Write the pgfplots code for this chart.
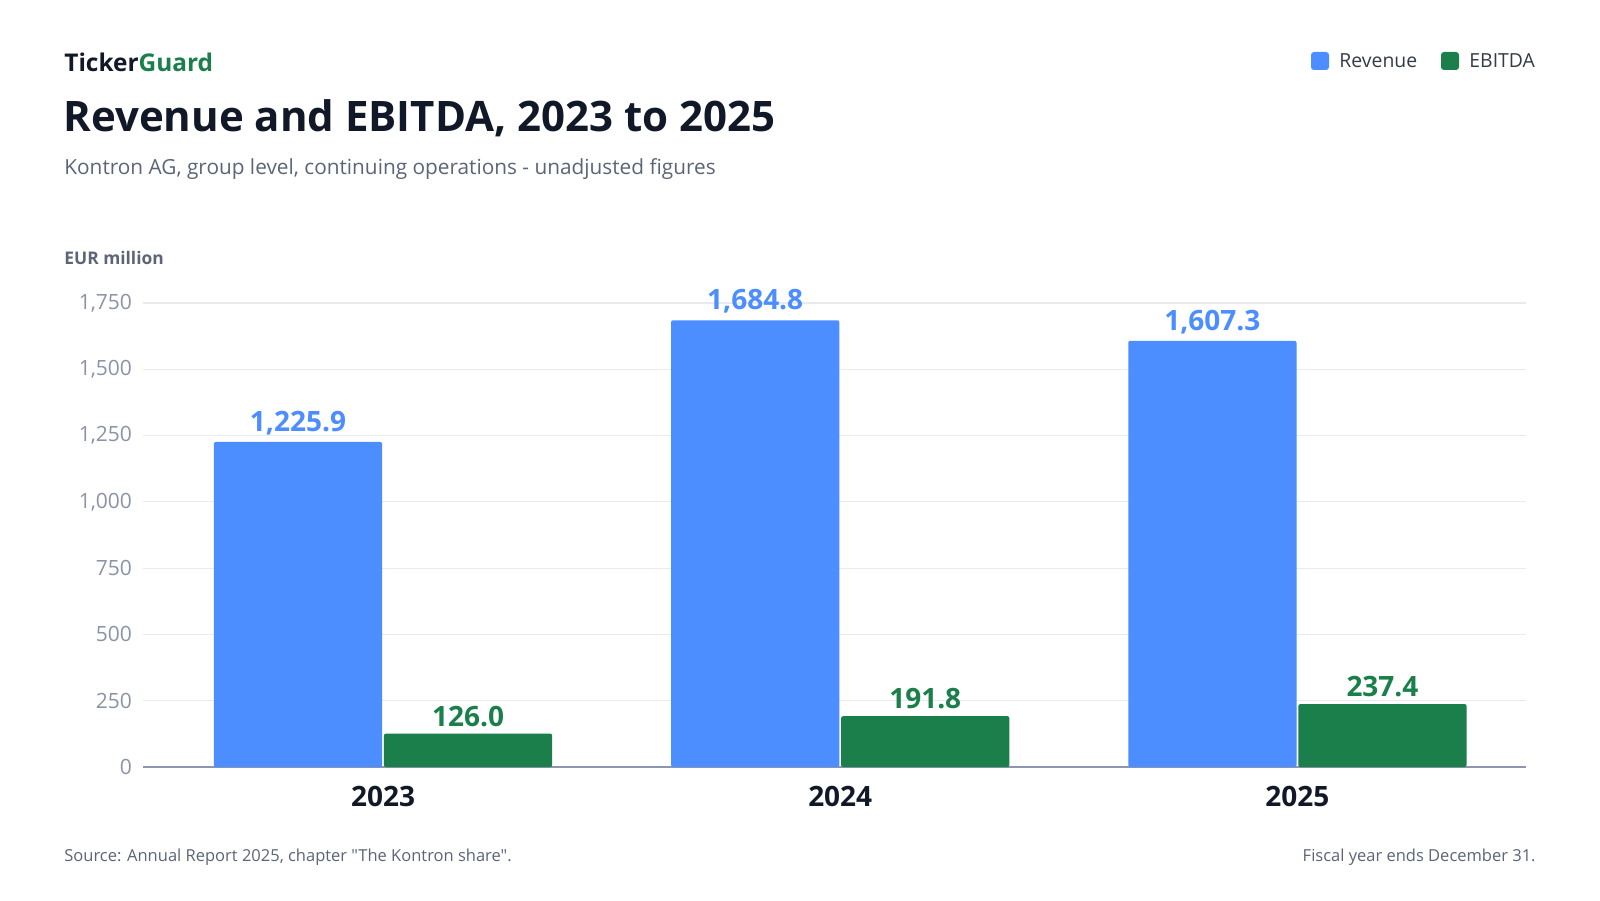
\documentclass[border=0pt]{standalone}
\usepackage{pgfplots}
\pgfplotsset{compat=1.18}
\usepackage{fontspec}
\setmainfont{Open Sans}[Ligatures=TeXOff]
\definecolor{rev}{HTML}{4C8DFF}
\definecolor{ebit}{HTML}{1B7F4B}
\definecolor{ink}{HTML}{111827}
\definecolor{sub}{HTML}{5B6577}
\definecolor{tick}{HTML}{8A94A6}
\definecolor{grid}{HTML}{E8EAEE}
\definecolor{axisc}{HTML}{8C97AD}
\begin{document}
\begin{tikzpicture}
\begin{scope}[x=0.5pt,y=-0.5pt,yshift=450pt]
\fill[white] (0,0) rectangle (1600,900);
\node[anchor=west,font=\fontsize{12.2}{14}\selectfont\bfseries,text=ink,inner sep=0] at (64,62) {Ticker\textcolor{ebit}{Guard}};
\node[anchor=west,font=\fontsize{21}{25}\selectfont\bfseries,text=ink,inner sep=0] at (63,118) {Revenue and EBITDA, 2023 to 2025};
\node[anchor=west,font=\fontsize{10.4}{12}\selectfont,text=sub,inner sep=0] at (64,169) {Kontron AG, group level, continuing operations - unadjusted figures};
\node[anchor=west,font=\fontsize{8.7}{10}\selectfont\bfseries,text=sub,inner sep=0] at (64,258) {EUR million};
\node[anchor=west,font=\fontsize{8.25}{10}\selectfont,text=sub,inner sep=0] at (64,857) {Source: Annual Report 2025, chapter "The Kontron share".};
\node[anchor=east,font=\fontsize{8.25}{10}\selectfont,text=sub,inner sep=0] at (1536,857) {Fiscal year ends December 31.};
\fill[rev,rounded corners=1.5pt] (1311,52) rectangle (1329,70);
\node[anchor=west,font=\fontsize{9.7}{11}\selectfont,text=ink!85,inner sep=0] at (1339,61) {Revenue};
\fill[ebit,rounded corners=1.5pt] (1441,52) rectangle (1459,70);
\node[anchor=west,font=\fontsize{9.7}{11}\selectfont,text=ink!85,inner sep=0] at (1469,61) {EBITDA};
\end{scope}
\begin{axis}[
  at={(71.5pt,66.5pt)}, anchor=south west,
  scale only axis, width=691.5pt, height=232pt,
  ybar, bar width=0.368, clip=false,
  xmin=-0.525, xmax=2.5, ymin=0, ymax=1750,
  xtick={0,1,2}, xticklabels={2023,2024,2025},
  ytick={0,250,...,1750},
  yticklabel style={font=\fontsize{10.5}{11}\selectfont,text=tick},
  xticklabel style={font=\fontsize{14}{16}\selectfont\bfseries,text=ink},
  /pgf/number format/assume math mode=true,
  /pgf/number format/1000 sep={,},
  major tick length=0pt,
  xmajorgrids=false, ymajorgrids=true, major grid style={draw=grid,line width=0.6pt},
  axis x line*=bottom, axis y line*=left,
  y axis line style={draw=none},
  x axis line style={axisc,line width=0.8pt},
  xticklabel shift=6pt, yticklabel shift=2pt,
  nodes near coords={\pgfmathprintnumber[fixed,fixed zerofill,precision=1,1000 sep={,},assume math mode=true]{\pgfplotspointmeta}},
  nodes near coords style={font=\fontsize{14}{16}\selectfont\bfseries},
]
\addplot[fill=rev,draw=none,bar shift=-0.186,rounded corners=1pt,nodes near coords style={text=rev}] coordinates {(0,1225.9) (1,1684.8) (2,1607.3)};
\addplot[fill=ebit,draw=none,bar shift=0.186,rounded corners=1pt,nodes near coords style={text=ebit}] coordinates {(0,126.0) (1,191.8) (2,237.4)};
\end{axis}
\end{tikzpicture}
\end{document}
